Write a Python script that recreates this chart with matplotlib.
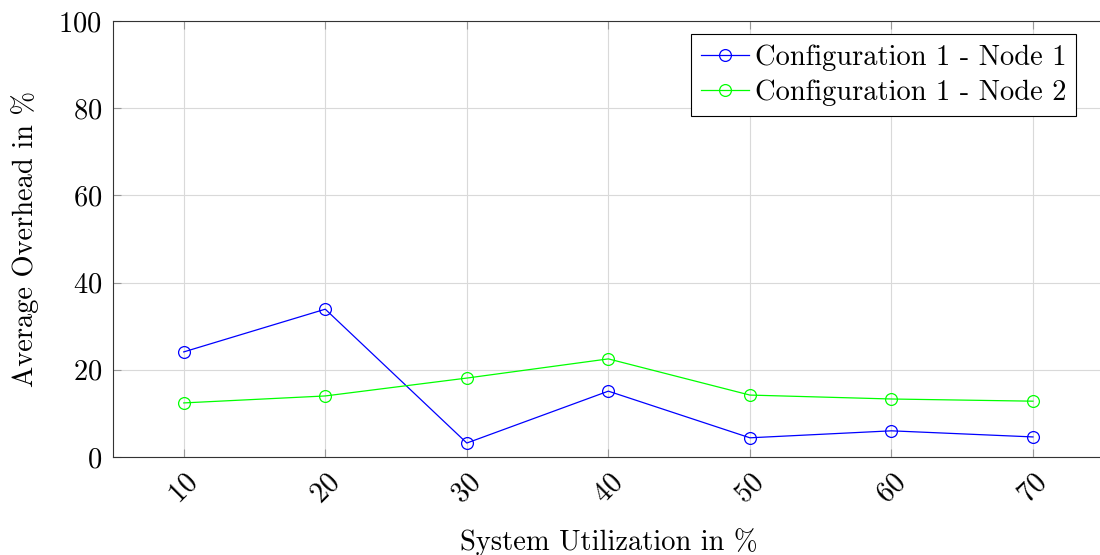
import matplotlib
matplotlib.use("Agg")
import matplotlib.pyplot as plt

# average overhead per system utilization level
utilization = [10, 20, 30, 40, 50, 60, 70]
node1_overhead = [24.1, 33.9, 3.2, 15.1, 4.4, 6.0, 4.6]
node2_overhead = [12.4, 14.0, 18.1, 22.5, 14.2, 13.3, 12.8]

plt.rcParams["font.family"] = "cmr10"
plt.rcParams["axes.formatter.use_mathtext"] = True
plt.rcParams["mathtext.fontset"] = "cm"

fs = 20.5
fig = plt.figure(figsize=(11, 5.55), dpi=100)
ax = fig.add_axes([0.1027, 0.1766, 0.9007, 0.7856])

ax.plot(utilization, node1_overhead, color="blue", lw=0.9, marker="o",
        markersize=8.5, markerfacecolor="none", markeredgewidth=0.9,
        label="Configuration 1 - Node 1")
ax.plot(utilization, node2_overhead, color="#00ff00", lw=0.9, marker="o",
        markersize=8.5, markerfacecolor="none", markeredgewidth=0.9,
        label="Configuration 1 - Node 2")

ax.set_xlim(5, 75)
ax.set_ylim(0, 100)
ax.set_xticks(utilization)
ax.set_yticks([0, 20, 40, 60, 80, 100])
ax.grid(True, color="#d9d9d9", lw=0.8)
ax.set_axisbelow(True)
ax.tick_params(direction="in", length=6, width=0.8, color="#999999",
               labelsize=fs, top=True)
ax.tick_params(axis="x", pad=9)
ax.tick_params(axis="y", pad=8)
plt.setp(ax.get_xticklabels(), rotation=45)
for side in ["left", "bottom", "top"]:
    ax.spines[side].set_linewidth(0.8)
    ax.spines[side].set_color("#333333")
ax.spines["right"].set_visible(False)

ax.set_xlabel("System Utilization in %", fontsize=fs, labelpad=14)
ax.set_ylabel("Average Overhead in %", fontsize=fs, labelpad=14)

leg = ax.legend(loc="upper right", bbox_to_anchor=(0.9725, 0.97), fontsize=fs,
                fancybox=False, edgecolor="black", framealpha=1,
                handlelength=1.7, handletextpad=0.2, borderpad=0.35,
                labelspacing=0.3, borderaxespad=0)
leg.get_frame().set_linewidth(0.8)

fig.savefig("out.png", dpi=100)
